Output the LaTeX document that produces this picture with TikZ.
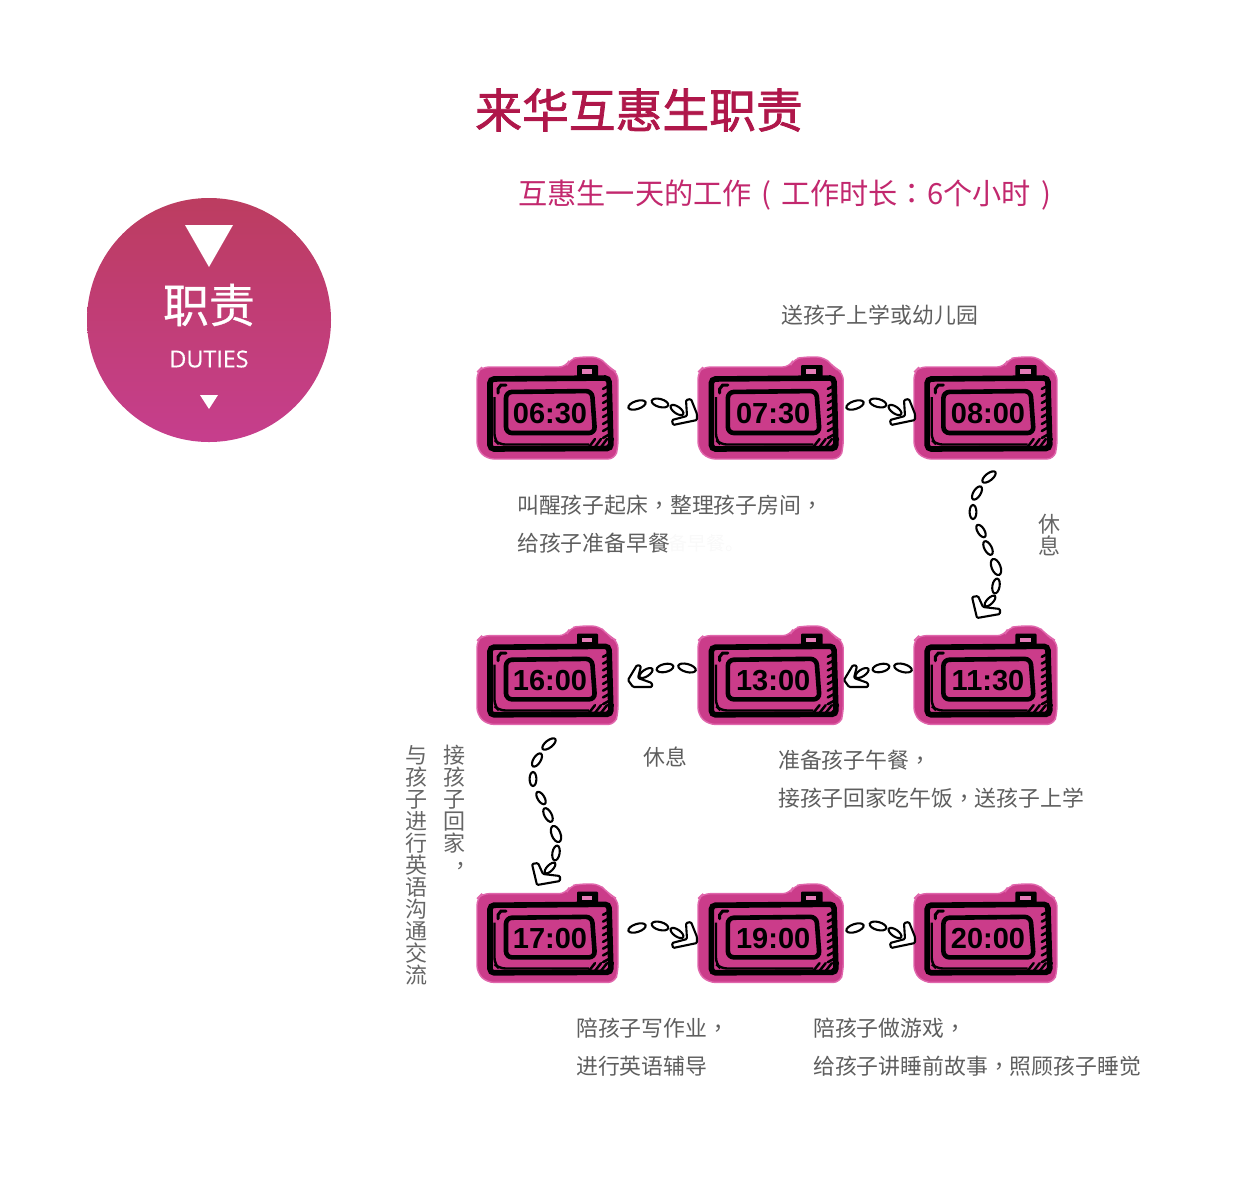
\documentclass[tikz,border=0pt]{standalone}
\usepackage{fontspec}
\usetikzlibrary{calc}
\setmainfont{Noto Sans CJK SC}
\newfontfamily\cjk{Noto Sans CJK SC}
\newfontfamily\cjktc{Noto Sans CJK TC}
\newfontfamily\cjkmed[FakeBold=0.6]{Noto Sans CJK SC}
\newfontfamily\cjktitle[FakeBold=1.6]{Noto Sans CJK SC}
\newfontfamily\latinf[FakeBold=0.3]{Open Sans}
\newfontfamily\digitf{Liberation Sans}
\newcommand{\cm}{{\cjktc ，}}
\newcommand{\cn}{{\cjktc ：}}
\definecolor{titlered}{HTML}{AF174A}
\definecolor{subred}{HTML}{C2286E}
\definecolor{bodygray}{HTML}{5E5E5E}
\definecolor{vertgray}{HTML}{666666}
\definecolor{clockpink}{HTML}{CB3C8A}
\definecolor{clockedge}{HTML}{E066AC}
\definecolor{gtop}{HTML}{BC3D60}
\definecolor{gbot}{HTML}{C63E8D}
\newcommand{\lnk}[5]{\draw[linkst,shift={(#1,#2)},rotate=#3] (0,0) ellipse [x radius=#4,y radius=#5];}
\tikzset{
  x=1pt,y=-1pt,
  bodytext/.style={anchor=west,inner sep=0pt,text=bodygray,font=\cjk\fontsize{21.85}{22}\selectfont},
  stacktext/.style={anchor=north,inner sep=0pt,align=center,text=vertgray,font=\cjk\fontsize{22}{22}\selectfont},
  linkst/.style={draw=black,fill=white,line width=2.1pt},
  headst/.style={draw=black,fill=white,line width=2.1pt,line join=round,rounded corners=1.2pt},
  hatch/.style={draw=black,line width=2.5pt,line cap=round},
  pics/clock/.style={code={
    \path[fill=clockpink,draw=clockedge,line width=1.4pt,rounded corners=7pt]
      (0,15)--(5,10)--(89,10)--(93,2)--(103,0)--(122,0)--(130,8)--(133,11)--(141,16)--(141,90)--(138,102)--(10,102)--(0,92)--cycle;
    % knob
    \path[fill=black,rounded corners=1pt] (100,8) rectangle (121,22);
    \path[fill=clockedge!85!white] (105,12) rectangle (115,17);
    % outer frame
    \draw[black,line width=5.6pt,rounded corners=4pt] (13,22) -- (132,21) -- (134,91.5) -- (13,92) -- cycle;
    \draw[black,line width=2.4pt,rounded corners=6pt] (17.5,40) -- (17.5,83) -- (22,87.5) -- (112,87.5);
    % inner screen
    \draw[black,line width=4.6pt,rounded corners=6pt] (29,35) -- (115,34) -- (118,76) -- (29,76) -- cycle;
    % corner mark
    \draw[black,line width=3pt,line cap=round] (21,36) -- (21,32) -- (24,28) -- (29,28);
    % side hatching
    \foreach \yy in {28,35,42,49,56,63,70,77} {\draw[hatch] (126,\yy+4) -- (133,\yy);}
    % bottom corner hatching
    \foreach \xx in {112,118,124,130} {\draw[hatch] (\xx,90) -- (\xx+6,82);}
    \node[inner sep=0pt,text=black,font=\digitf\bfseries\fontsize{29}{29}\selectfont] (-time) at (73,56.5) {#1};
  }},
  pics/downarrow/.style={code={
    \lnk{0}{0}{38}{8}{3.6}
    \lnk{-12}{16}{58}{7.5}{3.6}
    \lnk{-16}{35}{90}{7}{3.4}
    \lnk{-8}{54}{-58}{7}{3.4}
    \lnk{-1}{71}{-62}{7.5}{3.6}
    \lnk{7}{90}{-68}{8.5}{4.4}
    \lnk{7}{109}{80}{7.5}{3.6}
    \lnk{1}{124}{45}{7}{3}
    \draw[headst] (-17,120) -- (-11,119) -- (-6,130) -- (11,132) -- (11,137) -- (-12,141) -- cycle;
  }},
  pics/rightarrow/.style={code={
    \lnk{0}{0}{18}{9}{4}
    \lnk{23}{-2}{-15}{8.5}{4}
    \lnk{40}{5}{-35}{7.5}{3.4}
    \draw[headst] (49,-5) -- (54,-6) -- (60,9) -- (60,15) -- (36,20) -- (35,15) -- (50,11) -- cycle;
  }},
  pics/leftarrow/.style={code={
    \lnk{0}{0}{-15}{9}{4}
    \lnk{-22}{0}{12}{8.5}{4}
    \lnk{-41}{5}{33}{7.5}{3.4}
    \draw[headst] (-50,-3) -- (-46,-2) -- (-49,10) -- (-35,15) -- (-35,19) -- (-54,19) -- (-59,12) -- cycle;
  }},
}
\begin{document}
\begin{tikzpicture}
\useasboundingbox (0,0) rectangle (1250,1187);
% badge
\path[top color=gtop,bottom color=gbot] (209,320) circle [radius=122];
\path[fill=white] (185,225) -- (233,225) -- (209,267) -- cycle;
\path[fill=white] (200,395) -- (218,395) -- (209,409) -- cycle;
\node[inner sep=0pt,text=white,font=\cjkmed\fontsize{46}{46}\selectfont] (badgecn) at (209,305) {职责};
\node[inner sep=0pt,text=white,font=\latinf\fontsize{23.3}{23.3}\selectfont] (badgeen) at (209,359) {DUTIES};
% headings
\node[anchor=west,inner sep=0pt,text=titlered,font=\cjktitle\fontsize{46.8}{46.8}\selectfont] (title) at (475,110) {来华互惠生职责};
\node[anchor=west,inner sep=0pt,text=subred,font=\cjk\fontsize{29.2}{29.2}\selectfont] (subtitle) at (518,195.5) {互惠生一天的工作\makebox[1em][c]{(}工作时长\cn 6个小时\makebox[1em][c]{\hspace{2pt})}};
% clocks
\pic (c0630) at (477,357) {clock={06:30}};
\pic[xscale=1.03] (c0730) at (698,357) {clock={07:30}};
\pic[xscale=1.014] (c0800) at (914,357) {clock={08:00}};
\pic[yscale=.965] (c1600) at (477,626) {clock={16:00}};
\pic[xscale=1.03,yscale=.965] (c1300) at (698,626) {clock={13:00}};
\pic[xscale=1.014,yscale=.965] (c1130) at (914,626) {clock={11:30}};
\pic[yscale=.965] (c1700) at (477,884) {clock={17:00}};
\pic[xscale=1.03,yscale=.965] (c1900) at (698,884) {clock={19:00}};
\pic[xscale=1.014,yscale=.965] (c2000) at (914,884) {clock={20:00}};
% arrows
\pic at (637,405) {rightarrow};
\pic at (855,405) {rightarrow};
\pic at (989,477) {downarrow};
\pic at (903,668) {leftarrow};
\pic at (687,668) {leftarrow};
\pic at (549,744) {downarrow};
\pic at (637,928) {rightarrow};
\pic at (855,928) {rightarrow};
% labels
\node[bodytext] (l1) at (781,315) {送孩子上学或幼儿园};
\node[bodytext] (l2) at (517,505) {叫醒孩子起床\cm 整理孩子房间\cm};
\node[bodytext,text=gray!5,font=\cjk\fontsize{19}{19}\selectfont] (l3g) at (668,543) {备早餐。};
\node[bodytext] (l3) at (517,543) {给孩子准备早餐};
\node[stacktext] (l4) at (1049,514) {休\\息};
\node[bodytext] (l5) at (643,757) {休息};
\node[bodytext] (l6) at (778,760) {准备孩子午餐\cm};
\node[bodytext] (l7) at (778,798) {接孩子回家吃午饭\cm 送孩子上学};
\node[stacktext] (l8) at (454,745) {接\\孩\\子\\回\\家};
\node[stacktext] (l8c) at (466,862) {，};
\node[stacktext] (l9) at (416,745) {与\\孩\\子\\进\\行\\英\\语\\沟\\通\\交\\流};
\node[bodytext] (l10) at (576,1028) {陪孩子写作业\cm};
\node[bodytext] (l11) at (576,1066) {进行英语辅导};
\node[bodytext] (l12) at (813,1028) {陪孩子做游戏\cm};
\node[bodytext] (l13) at (813,1066) {给孩子讲睡前故事\cm 照顾孩子睡觉};
\end{tikzpicture}
\end{document}
